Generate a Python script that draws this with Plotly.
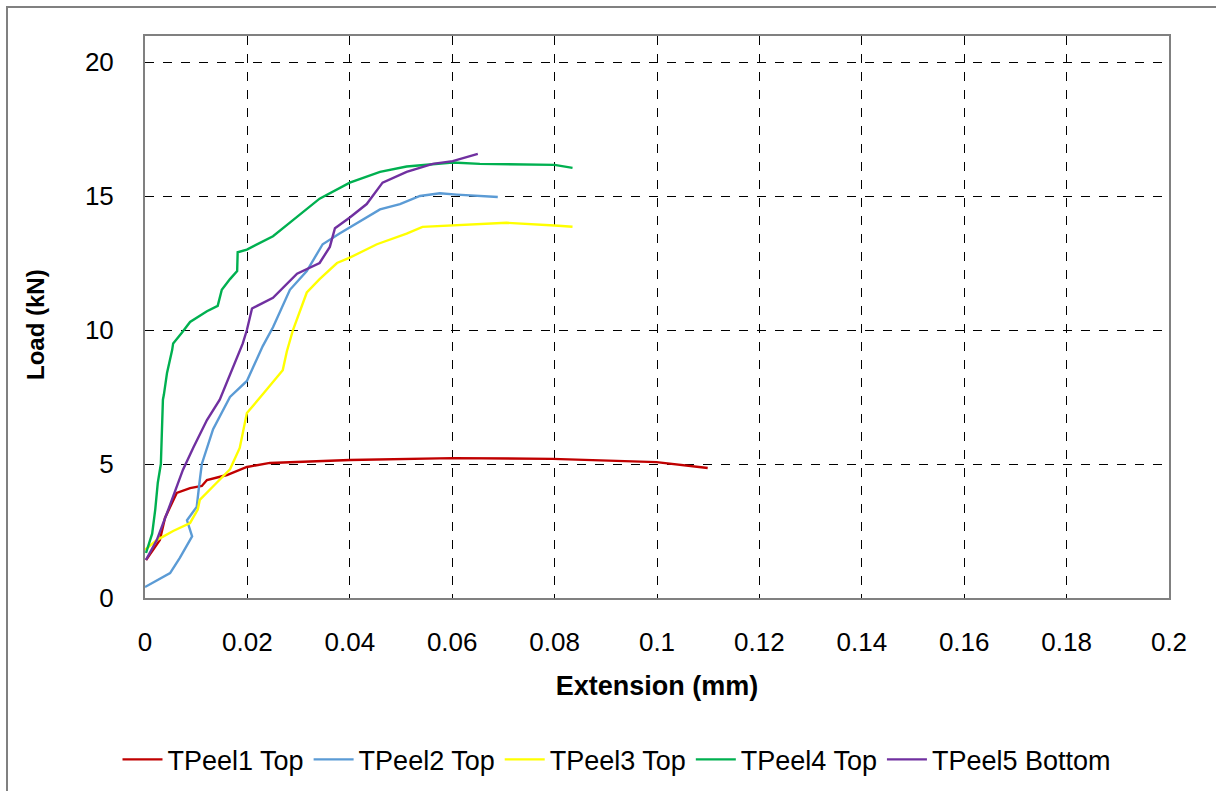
import plotly.graph_objects as go

# ---- data ----
t1_x = [0.0002, 0.0029, 0.0039, 0.0062, 0.0088, 0.0111, 0.0121, 0.0160, 0.0199, 0.0244,
        0.0400, 0.0601, 0.0796, 0.0999, 0.1099]
t1_y = [1.42, 2.16, 2.99, 3.92, 4.10, 4.18, 4.40, 4.59, 4.89, 5.04,
        5.15, 5.22, 5.19, 5.07, 4.85]

t2_x = [0.0000, 0.0049, 0.0068, 0.0092, 0.0082, 0.0101, 0.0107, 0.0111, 0.0133, 0.0166,
        0.0199, 0.0230, 0.0250, 0.0283, 0.0316, 0.0347, 0.0380, 0.0425, 0.0459, 0.0498,
        0.0537, 0.0576, 0.0609, 0.0689]
t2_y = [0.41, 0.93, 1.5, 2.3, 2.9, 3.4, 4.4, 5.0, 6.3, 7.5,
        8.1, 9.4, 10.1, 11.5, 12.2, 13.2, 13.6, 14.1, 14.5, 14.7,
        15.0, 15.1, 15.05, 14.96]

t3_x = [0.0000, 0.0023, 0.0055, 0.0088, 0.0103, 0.0107, 0.0140, 0.0166, 0.0185, 0.0199,
        0.0230, 0.0269, 0.0277, 0.0289, 0.0316, 0.0341, 0.0375, 0.0400, 0.0453, 0.0511,
        0.0542, 0.0601, 0.0706, 0.0800, 0.0835]
t3_y = [1.8, 2.16, 2.5, 2.8, 3.3, 3.66, 4.3, 4.8, 5.6, 6.9,
        7.6, 8.5, 9.2, 10.0, 11.4, 11.9, 12.5, 12.7, 13.2, 13.6,
        13.85, 13.9, 14.0, 13.9, 13.85]

t4_x = [0.0002, 0.0014, 0.0020, 0.0025, 0.0031, 0.0033, 0.0035, 0.0037, 0.0043, 0.0053,
        0.0055, 0.0072, 0.0088, 0.0121, 0.0142, 0.0150, 0.0166, 0.0180, 0.0181, 0.0199,
        0.0238, 0.0250, 0.0289, 0.0341, 0.0400, 0.0459, 0.0511, 0.0562, 0.0601, 0.0654,
        0.0800, 0.0835]
t4_y = [1.68, 2.4, 3.3, 4.3, 5.0, 6.2, 7.4, 7.6, 8.4, 9.25,
        9.5, 9.9, 10.3, 10.7, 10.9, 11.5, 11.9, 12.2, 12.9, 13.0,
        13.4, 13.5, 14.1, 14.9, 15.5, 15.9, 16.1, 16.2, 16.25, 16.2,
        16.16, 16.05]

t5_x = [0.0002, 0.0023, 0.0043, 0.0055, 0.0074, 0.0094, 0.0121, 0.0146, 0.0172, 0.0191,
        0.0199, 0.0209, 0.0219, 0.0250, 0.0297, 0.0341, 0.0361, 0.0371, 0.0400, 0.0433,
        0.0464, 0.0511, 0.0562, 0.0601, 0.0650]
t5_y = [1.42, 2.16, 3.17, 3.77, 4.78, 5.6, 6.64, 7.4, 8.6, 9.5,
        10.0, 10.8, 10.9, 11.2, 12.1, 12.5, 13.1, 13.8, 14.2, 14.7,
        15.5, 15.9, 16.2, 16.3, 16.57]

names = ["TPeel1 Top", "TPeel2 Top", "TPeel3 Top", "TPeel4 Top", "TPeel5 Bottom"]
colors = ["#C00000", "#5B9BD5", "#FFFF00", "#00B050", "#7030A0"]

x_ticks = [0, 0.02, 0.04, 0.06, 0.08, 0.1, 0.12, 0.14, 0.16, 0.18, 0.2]
x_tick_text = ["0", "0.02", "0.04", "0.06", "0.08", "0.1", "0.12", "0.14", "0.16", "0.18", "0.2"]
y_ticks = [0, 5, 10, 15, 20]

series = [(t1_x, t1_y), (t2_x, t2_y), (t3_x, t3_y), (t4_x, t4_y), (t5_x, t5_y)]

fig = go.Figure()
for (xs, ys), nm, c in zip(series, names, colors):
    fig.add_trace(go.Scatter(x=xs, y=ys, mode="lines", name=nm,
                             line=dict(color=c, width=2.4)))

font_family = "Liberation Sans, Arial, sans-serif"

fig.update_layout(
    width=1216, height=791,
    margin=dict(l=145, r=47, t=36, b=193, autoexpand=False),
    paper_bgcolor="white", plot_bgcolor="white",
    font=dict(family=font_family, size=26, color="#000000"),
    showlegend=True,
    legend=dict(orientation="h", x=(617 - 145) / 1024, xanchor="center",
                y=-0.288, yanchor="middle",
                font=dict(size=27), itemwidth=40, traceorder="normal"),
    xaxis=dict(range=[0, 0.2], tickvals=x_ticks, ticktext=x_tick_text,
               showgrid=True, gridcolor="#000000", griddash="dash", gridwidth=1,
               showline=True, linecolor="#808080", linewidth=2, mirror=True,
               ticks="", zeroline=False, ticklabelstandoff=20, automargin=False,
               tickfont=dict(size=26),
               title=dict(text="<b>Extension (mm)</b>", font=dict(size=27), standoff=20)),
    yaxis=dict(range=[0, 20.97], tickvals=y_ticks,
               showgrid=True, gridcolor="#000000", griddash="dash", gridwidth=1,
               showline=True, linecolor="#808080", linewidth=2, mirror=True,
               ticks="", zeroline=False, ticklabelstandoff=24, automargin=False,
               tickfont=dict(size=26)),
    annotations=[dict(text="<b>Load (kN)</b>", xref="paper", yref="paper",
                      x=(35 - 145) / 1024, y=(598 - 325) / 562,
                      xanchor="center", yanchor="middle", textangle=-90,
                      showarrow=False, font=dict(size=24))],
    shapes=[dict(type="rect", xref="paper", yref="paper",
                 x0=(7 - 145) / 1024, x1=(1230 - 145) / 1024,
                 y0=-(810 - 598) / 562, y1=(598 - 7) / 562,
                 line=dict(color="#808080", width=2), fillcolor="rgba(0,0,0,0)", layer="below")],
)

fig.write_html("out.html")
